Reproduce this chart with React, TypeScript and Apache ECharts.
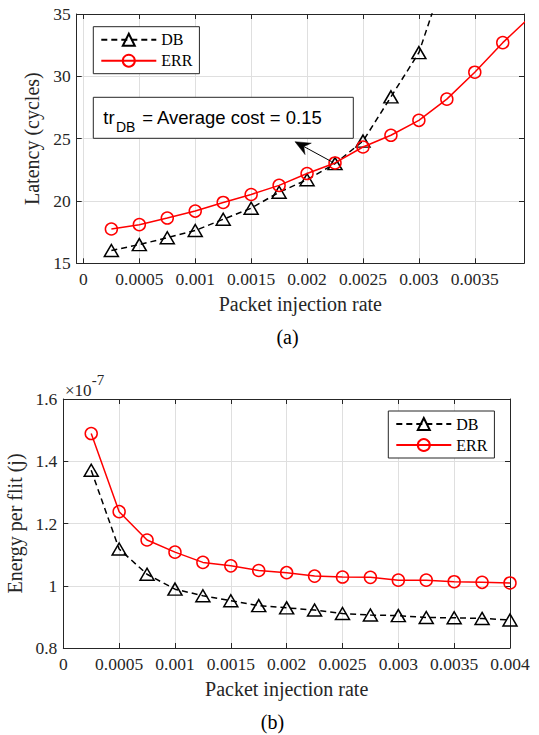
import React, { useEffect, useRef } from "react";
import * as echarts from "echarts";

// ---- data ----
const rates = [0.00025, 0.0005, 0.00075, 0.001, 0.00125, 0.0015, 0.00175, 0.002, 0.00225, 0.0025, 0.00275, 0.003, 0.00325, 0.0035, 0.00375, 0.004];
const latencyDB = [16.03, 16.5, 17.05, 17.63, 18.53, 19.42, 20.7, 21.7, 23.0, 24.8, 28.35, 31.9, 38.6];
const latencyERR = [17.75, 18.1, 18.63, 19.19, 19.88, 20.52, 21.25, 22.2, 23.05, 24.33, 25.27, 26.47, 28.17, 30.33, 32.7, 34.8];
const energyDB = [1.371, 1.118, 1.037, 0.989, 0.968, 0.952, 0.936, 0.929, 0.922, 0.911, 0.906, 0.904, 0.898, 0.897, 0.895, 0.89];
const energyERR = [1.489, 1.238, 1.147, 1.108, 1.075, 1.064, 1.049, 1.042, 1.031, 1.028, 1.027, 1.018, 1.018, 1.013, 1.011, 1.009];
const topXTicks = [0, 0.0005, 0.001, 0.0015, 0.002, 0.0025, 0.003, 0.0035];
const seriesNames = ["DB", "ERR"];

const SERIF = "Liberation Serif, Times New Roman, serif";
const SANS = "Liberation Sans, Arial, sans-serif";
const AX = "#262626";
const GRIDC = "#dfdfdf";

const fmt = (v: number) => String(parseFloat(Number(v).toPrecision(6)));
const pairs = (ys: number[]) => ys.map((y, i) => [rates[i], y]);

function baseAxis(extra: any) {
  return {
    type: "value",
    axisLine: { show: true, onZero: false, lineStyle: { color: AX, width: 1 } },
    axisTick: { show: true, inside: true, length: 5, lineStyle: { color: AX, width: 1 } },
    axisLabel: { show: true, color: AX, fontFamily: SERIF, fontSize: 17.5, formatter: fmt },
    splitLine: { show: true, lineStyle: { color: GRIDC, width: 1 } },
    ...extra,
  };
}

function mirror(extra: any) {
  return {
    type: "value",
    axisLine: { show: true, onZero: false, lineStyle: { color: AX, width: 1 } },
    axisTick: { show: true, inside: true, length: 5, lineStyle: { color: AX, width: 1 } },
    axisLabel: { show: false },
    splitLine: { show: false },
    ...extra,
  };
}

function dbSeries(xi: number, yi: number, data: number[]) {
  return {
    type: "line",
    name: "DB",
    xAxisIndex: xi,
    yAxisIndex: yi,
    data: pairs(data),
    symbol: "triangle",
    symbolSize: [14, 12],
    showAllSymbol: true,
    clip: true,
    lineStyle: { color: "#000", width: 1.5, type: [6, 4] },
    itemStyle: { color: "rgba(0,0,0,0)", borderColor: "#000", borderWidth: 1.5 },
    emphasis: { disabled: true },
    z: 3,
  };
}

function errSeries(xi: number, yi: number, data: number[]) {
  return {
    type: "line",
    name: "ERR",
    xAxisIndex: xi,
    yAxisIndex: yi,
    data: pairs(data),
    symbol: "circle",
    symbolSize: 12,
    showAllSymbol: true,
    clip: true,
    lineStyle: { color: "#ff0000", width: 1.5 },
    itemStyle: { color: "rgba(0,0,0,0)", borderColor: "#ff0000", borderWidth: 1.5 },
    emphasis: { disabled: true },
    z: 4,
  };
}

function legendAt(left: number, top: number) {
  return {
    left,
    top,
    orient: "vertical",
    data: seriesNames,
    selectedMode: false,
    itemWidth: 55,
    itemHeight: 15,
    itemGap: 5,
    padding: [5, 7, 5, 7],
    borderColor: AX,
    borderWidth: 1,
    borderRadius: 0,
    backgroundColor: "#fff",
    textStyle: { fontFamily: SERIF, fontSize: 16, color: "#000", lineHeight: 15 },
  };
}

export default function App() {
  const ref = useRef<HTMLDivElement>(null);
  useEffect(() => {
    if (!ref.current) return;
    const chart = echarts.init(ref.current, undefined, { renderer: "svg" });
    // arrow geometry (annotation, figure pixels)
    const tip = [295, 141.7];
    const tail = [331.7, 161.7];
    const dx = tip[0] - tail[0];
    const dy = tip[1] - tail[1];
    const L = Math.hypot(dx, dy);
    const ux = dx / L, uy = dy / L;
    const px = -uy, py = ux;
    const hl = 15, hw = 6.5, notch = 10;
    const base = [tip[0] - hl * ux, tip[1] - hl * uy];
    const nb = [tip[0] - notch * ux, tip[1] - notch * uy];
    const head = [
      tip,
      [base[0] + hw * px, base[1] + hw * py],
      nb,
      [base[0] - hw * px, base[1] - hw * py],
    ];

    const option: any = {
      animation: false,
      backgroundColor: "#fff",
      grid: [
        { left: 76.7, top: 14, width: 447.3, height: 249.3, containLabel: false, outerBoundsMode: "none" },
        { left: 63.3, top: 399, width: 446.7, height: 249, containLabel: false, outerBoundsMode: "none" },
      ],
      xAxis: [
        baseAxis({
          gridIndex: 0,
          position: "bottom",
          min: -0.00006,
          max: 0.00394,
          axisTick: { show: true, inside: true, length: 5, lineStyle: { color: AX, width: 1 }, customValues: topXTicks },
          axisLabel: { show: true, color: AX, fontFamily: SERIF, fontSize: 17.5, formatter: fmt, margin: 7, customValues: topXTicks },
          name: "Packet injection rate",
          nameLocation: "middle",
          nameGap: 31,
          nameTextStyle: { fontFamily: SERIF, fontSize: 20, color: AX },
        }),
        mirror({
          gridIndex: 0,
          position: "top",
          min: -0.00006,
          max: 0.00394,
          axisTick: { show: true, inside: true, length: 5, lineStyle: { color: AX, width: 1 }, customValues: topXTicks },
        }),
        baseAxis({
          gridIndex: 1,
          position: "bottom",
          min: 0,
          max: 0.004,
          interval: 0.0005,
          axisLabel: { show: true, color: AX, fontFamily: SERIF, fontSize: 17.5, formatter: fmt, margin: 7 },
          name: "Packet injection rate",
          nameLocation: "middle",
          nameGap: 31,
          nameTextStyle: { fontFamily: SERIF, fontSize: 20, color: AX },
        }),
        mirror({ gridIndex: 1, position: "top", min: 0, max: 0.004, interval: 0.0005 }),
      ],
      yAxis: [
        baseAxis({
          gridIndex: 0,
          position: "left",
          min: 15,
          max: 35,
          interval: 5,
          axisLabel: { show: true, color: AX, fontFamily: SERIF, fontSize: 17.5, formatter: fmt, margin: 6 },
          name: "Latency (cycles)",
          nameLocation: "middle",
          nameGap: 30,
          nameTextStyle: { fontFamily: SERIF, fontSize: 20, color: AX },
        }),
        mirror({ gridIndex: 0, position: "right", min: 15, max: 35, interval: 5 }),
        baseAxis({
          gridIndex: 1,
          position: "left",
          min: 0.8,
          max: 1.6,
          interval: 0.2,
          axisLabel: { show: true, color: AX, fontFamily: SERIF, fontSize: 17.5, formatter: fmt, margin: 6 },
          name: "Energy per flit (j)",
          nameLocation: "middle",
          nameGap: 36,
          nameTextStyle: { fontFamily: SERIF, fontSize: 20, color: AX },
        }),
        mirror({ gridIndex: 1, position: "right", min: 0.8, max: 1.6, interval: 0.2 }),
      ],
      legend: [legendAt(93.3, 26.7), legendAt(388.3, 411)],
      series: [
        dbSeries(0, 0, latencyDB),
        errSeries(0, 0, latencyERR),
        dbSeries(2, 2, energyDB),
        errSeries(2, 2, energyERR),
      ],
      graphic: [
        {
          type: "rect",
          shape: { x: 93.3, y: 97.3, width: 260, height: 41 },
          style: { fill: "#fff", stroke: AX, lineWidth: 1 },
          z: 100,
        },
        {
          type: "text",
          x: 103.3,
          y: 117,
          style: { text: "tr", fontFamily: SANS, fontSize: 18.5, fill: "#000", verticalAlign: "middle", align: "left" },
          z: 101,
        },
        {
          type: "text",
          x: 116,
          y: 127,
          style: { text: "DB", fontFamily: SANS, fontSize: 14, fill: "#000", verticalAlign: "middle", align: "left" },
          z: 101,
        },
        {
          type: "text",
          x: 137,
          y: 117,
          style: { text: " = Average cost = 0.15", fontFamily: SANS, fontSize: 18.5, fill: "#000", verticalAlign: "middle", align: "left" },
          z: 101,
        },
        {
          type: "line",
          shape: { x1: tail[0], y1: tail[1], x2: nb[0], y2: nb[1] },
          style: { stroke: "#000", lineWidth: 1 },
          z: 101,
        },
        {
          type: "polygon",
          shape: { points: head },
          style: { fill: "#000", stroke: "#000", lineWidth: 0.5 },
          z: 101,
        },
        {
          type: "text",
          x: 65,
          y: 390.3,
          style: { text: "×10", fontFamily: SERIF, fontSize: 17, fill: AX, verticalAlign: "middle", align: "left" },
        },
        {
          type: "text",
          x: 91.7,
          y: 380,
          style: { text: "-7", fontFamily: SERIF, fontSize: 15, fill: AX, verticalAlign: "middle", align: "left" },
        },
        {
          type: "text",
          x: 287.5,
          y: 337,
          style: { text: "(a)", fontFamily: SERIF, fontSize: 20, fill: "#000", verticalAlign: "middle", align: "center" },
        },
        {
          type: "text",
          x: 272.5,
          y: 722,
          style: { text: "(b)", fontFamily: SERIF, fontSize: 20, fill: "#000", verticalAlign: "middle", align: "center" },
        },
      ],
    };
    chart.setOption(option);
    return () => chart.dispose();
  }, []);
  return (
    <div
      ref={ref}
      style={{ position: "absolute", left: 0, top: 0, width: 539, height: 735, background: "#fff" }}
    />
  );
}
